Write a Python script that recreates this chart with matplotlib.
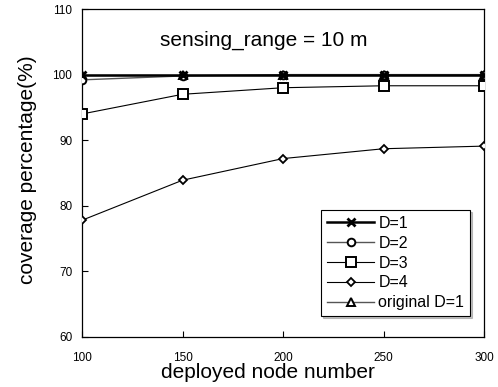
import matplotlib
matplotlib.use("Agg")
import matplotlib.pyplot as plt

plt.rcParams['font.family'] = ['Liberation Sans', 'DejaVu Sans']

nodes = [100, 150, 200, 250, 300]
d1 = [100, 100, 100, 100, 100]
d2 = [99.2, 99.8, 100, 100, 100]
d3 = [94, 97, 98, 98.3, 98.3]
d4 = [77.8, 83.9, 87.2, 88.7, 89.1]
orig_d1 = [100, 100, 100, 100, 100]
labels = ['D=1', 'D=2', 'D=3', 'D=4', 'original D=1']

fig = plt.figure(figsize=(4.98, 3.87), dpi=100)
ax = fig.add_axes([0.1647, 0.1292, 0.8072, 0.8475])

ax.plot(nodes, orig_d1, color='#555555', lw=1.0, marker='^', ms=5.5, mfc='white', mec='black', mew=1.4, label=labels[4], zorder=3)
ax.plot(nodes, d4, color='black', lw=0.8, marker='D', ms=4.2, mfc='white', mec='black', mew=1.3, label=labels[3], zorder=4)
ax.plot(nodes, d3, color='black', lw=0.8, marker='s', ms=6.5, mfc='white', mec='black', mew=1.4, label=labels[2], zorder=4)
ax.plot(nodes, d2, color='#555555', lw=1.0, marker='o', ms=5.5, mfc='white', mec='black', mew=1.4, label=labels[1], zorder=5)
ax.plot(nodes, d1, color='black', lw=1.8, marker='x', ms=6, mec='black', mew=2.0, label=labels[0], zorder=6)

ax.set_xlim(100, 300)
ax.set_ylim(60, 110)
ax.set_xticks(nodes)
ax.set_yticks([60, 70, 80, 90, 100, 110])
ax.tick_params(axis='both', direction='in', labelsize=8.5, length=4, width=0.8)
ax.tick_params(axis='x', pad=11)
ax.tick_params(axis='y', pad=7)
for s in ax.spines.values():
    s.set_linewidth(0.9)

ax.set_xlabel('deployed node number', fontsize=15)
ax.set_ylabel('coverage percentage(%)', fontsize=15)
ax.xaxis.set_label_coords(0.463, -0.079)
ax.yaxis.set_label_coords(-0.112, 0.509)
ax.text(0.453, 0.905, 'sensing_range = 10 m', transform=ax.transAxes, ha='center', va='center', fontsize=15)

h, l = ax.get_legend_handles_labels()
order = [4, 3, 2, 1, 0]
leg = ax.legend([h[i] for i in order], [l[i] for i in order], loc='lower right',
                bbox_to_anchor=(0.965, 0.064), fontsize=11.5, fancybox=False,
                shadow={'ox': 1.5, 'oy': -1.5, 'color': '#888888'},
                frameon=True, edgecolor='black', handlelength=3.0, borderpad=0.35,
                labelspacing=0.31, handletextpad=0.25, borderaxespad=0)
leg.get_frame().set_linewidth(0.8)

fig.savefig('out.png', dpi=100)
